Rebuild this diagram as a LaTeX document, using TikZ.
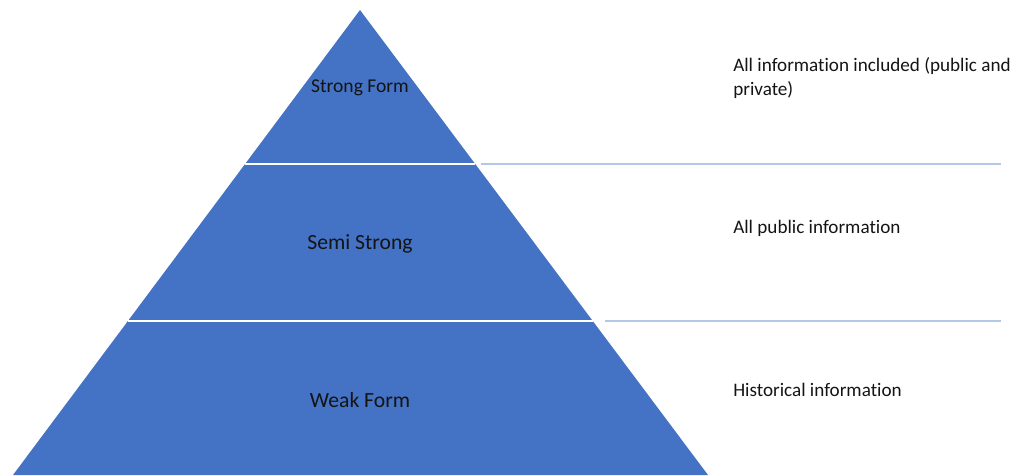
\documentclass[tikz,border=0pt]{standalone}
\usepackage{fontspec}
\setmainfont{Carlito}[Ligatures=NoCommon]
\usetikzlibrary{calc,positioning}
\definecolor{tierblue}{HTML}{4472C4}
\definecolor{rulelight}{HTML}{B4C7E7}
\definecolor{textdark}{HTML}{141414}

\begin{document}
\begin{tikzpicture}[x=0.025cm,y=-0.025cm]
\tikzstyle{tier}=[text=textdark,font=\fontsize{15.4}{18}\selectfont]
\tikzstyle{toptier}=[text=textdark,font=\fontsize{13.9}{17}\selectfont]
\tikzstyle{desc}=[text=textdark,font=\fontsize{13.6}{17}\selectfont,
anchor=west,align=left,inner sep=0pt]
\tikzstyle{cut}=[white,line width=1.1pt]
\tikzstyle{guide}=[rulelight,line width=1.1pt]
\useasboundingbox (0,0) rectangle (1025,475);

% pyramid corners
\coordinate (top) at (360,10);
\coordinate (bl) at (13,475);
\coordinate (br) at (708,475);
\fill[tierblue] (top) -- (br) -- (bl) -- cycle;

% tier boundaries on the sides
\coordinate (c1l) at ($(top)!0.3312!(bl)$);
\coordinate (c1r) at ($(top)!0.3312!(br)$);
\coordinate (c2l) at ($(top)!0.6688!(bl)$);
\coordinate (c2r) at ($(top)!0.6688!(br)$);
\coordinate (g1a) at (481,164);
\coordinate (g1b) at (1001,164);
\coordinate (g2a) at (605,321);
\coordinate (g2b) at (1001,321);

\path[cut] (c1l) edge (c1r) ;
\path[cut] (c2l) edge (c2r) ;
\path[guide] (g1a) edge (g1b) ;
\path[guide] (g2a) edge (g2b) ;

\node[toptier] at (360,88) (strong) {Strong Form};
\node[tier] at (360,244) (semi) {Semi Strong};
\node[tier] at (360,400) (weak) {Weak Form};

\node[desc] at (733,78) (alli) {All information included (public and\\private)};
\node[desc] at (733,228) (pub) {All public information};
\node[desc] at (733,390) (hist) {Historical information};

\end{tikzpicture}
\end{document}
